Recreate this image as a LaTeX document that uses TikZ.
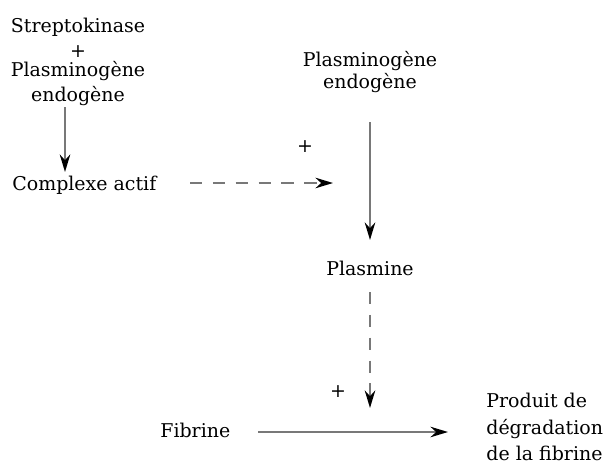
\documentclass[tikz,border=0pt]{standalone}
\usepackage{fontspec}
\setmainfont{DejaVu Serif}
\usetikzlibrary{arrows.meta, positioning}
\definecolor{shaftgray}{RGB}{120,120,120}

\begin{document}
\begin{tikzpicture}[x=0.02cm, y=-0.02cm]
                \tikzset{lbl/.style={font=\fontsize{10.8}{13}\selectfont, inner sep=0pt, align=center},
                         tip/.style={-{Stealth[length=10pt, width=6pt, color=black]}, shaftgray, line width=1.1pt},
                         dtip/.style={tip, dash pattern=on 7pt off 6pt}}
                \useasboundingbox (0,0) rectangle (608,466);
                \node[lbl] (strepto) at (78,62) {Streptokinase\\[1pt]+\\[-2pt]Plasminog\`ene\\[1pt]endog\`ene};
                \node[lbl, anchor=west] (complexe) at (12,185) {Complexe actif};
                \node[lbl] (plasmino) at (370,72) {Plasminog\`ene\\[-1pt]endog\`ene};
                \node[lbl] (plasmine) at (370,268) {Plasmine};
                \node[lbl, anchor=west] (fibrine) at (160,430) {Fibrine};
                \node[lbl, align=left, anchor=west] (produit) at (486,427) {Produit de\\[2pt]d\'egradation\\[2pt]de la fibrine};
                \node[lbl] (plus1) at (305,147) {+};
                \node[lbl] (plus2) at (338,392) {+};
                % free ends of the connectors
                \coordinate (sA) at (65,107);
                \coordinate (eA) at (65,172);
                \coordinate (sB) at (190,183);
                \coordinate (eB) at (333,183);
                \coordinate (sC) at (370,122);
                \coordinate (eC) at (370,240);
                \coordinate (sD) at (370,292);
                \coordinate (eD) at (370,408);
                \coordinate (sE) at (258,432);
                \coordinate (eE) at (448,432);
                \draw[tip] (sA) -- (eA);
                \draw[dtip] (sB) -- (eB);
                \draw[tip] (sC) -- (eC);
                \draw[dtip] (sD) -- (eD);
                \draw[tip] (sE) -- (eE);
            \end{tikzpicture}
\end{document}
